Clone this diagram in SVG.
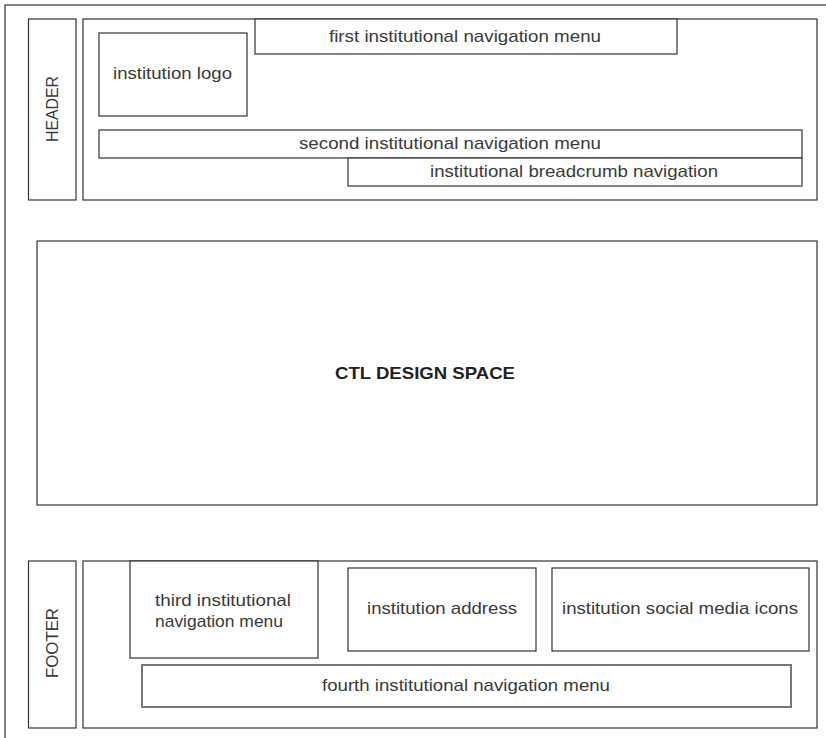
<svg xmlns="http://www.w3.org/2000/svg" width="826" height="738" viewBox="0 0 826 738">
<style>
rect{fill:#fff;stroke:#333;stroke-width:1.2}
text{font-family:"Liberation Sans",Arial,sans-serif;font-size:17px;fill:#3a3a3a;text-anchor:middle;dominant-baseline:central}
.b{font-weight:bold;font-size:17px;fill:#222}
.g{stroke:#777;stroke-width:2}
</style>
<rect x="5" y="5" width="830" height="745"/>
<g id="header-label"><rect x="28.5" y="19" width="47.5" height="181"/><text transform="translate(52,109) rotate(-90)" textLength="66" lengthAdjust="spacingAndGlyphs">HEADER</text></g>
<g id="header"><rect x="83" y="19" width="734" height="181"/></g>
<g id="logo"><rect x="99" y="33" width="148" height="83"/><text x="172.5" y="73" textLength="119" lengthAdjust="spacingAndGlyphs">institution logo</text></g>
<g id="nav1"><rect x="255" y="19" width="422" height="35"/><text x="465" y="36" textLength="272" lengthAdjust="spacingAndGlyphs">first institutional navigation menu</text></g>
<g id="nav2"><rect x="99" y="130" width="703" height="28"/><text x="450" y="143" textLength="302" lengthAdjust="spacingAndGlyphs">second institutional navigation menu</text></g>
<g id="breadcrumb"><rect x="348" y="158" width="454" height="28"/><text x="574" y="171" textLength="288" lengthAdjust="spacingAndGlyphs">institutional breadcrumb navigation</text></g>
<g id="design"><rect x="37" y="241" width="780" height="264"/><text class="b" x="425" y="373" textLength="180" lengthAdjust="spacingAndGlyphs">CTL DESIGN SPACE</text></g>
<g id="footer-label"><rect x="28.5" y="561" width="47.5" height="167"/><text transform="translate(52,643) rotate(-90)" textLength="70" lengthAdjust="spacingAndGlyphs">FOOTER</text></g>
<g id="footer"><rect x="83" y="561" width="734" height="167"/></g>
<g id="nav3"><rect x="130" y="561" width="188" height="97"/><text x="223" y="600" textLength="136" lengthAdjust="spacingAndGlyphs">third institutional</text><text x="219" y="621" textLength="128" lengthAdjust="spacingAndGlyphs">navigation menu</text></g>
<g id="address"><rect x="348" y="568" width="188" height="83"/><text x="442" y="608" textLength="150" lengthAdjust="spacingAndGlyphs">institution address</text></g>
<g id="social"><rect x="552" y="568" width="257" height="83"/><text x="680" y="608" textLength="236" lengthAdjust="spacingAndGlyphs">institution social media icons</text></g>
<g id="nav4"><rect class="g" x="142" y="665" width="649" height="42"/><text x="466" y="685" textLength="288" lengthAdjust="spacingAndGlyphs">fourth institutional navigation menu</text></g>
<g id="connectors"></g>
</svg>
